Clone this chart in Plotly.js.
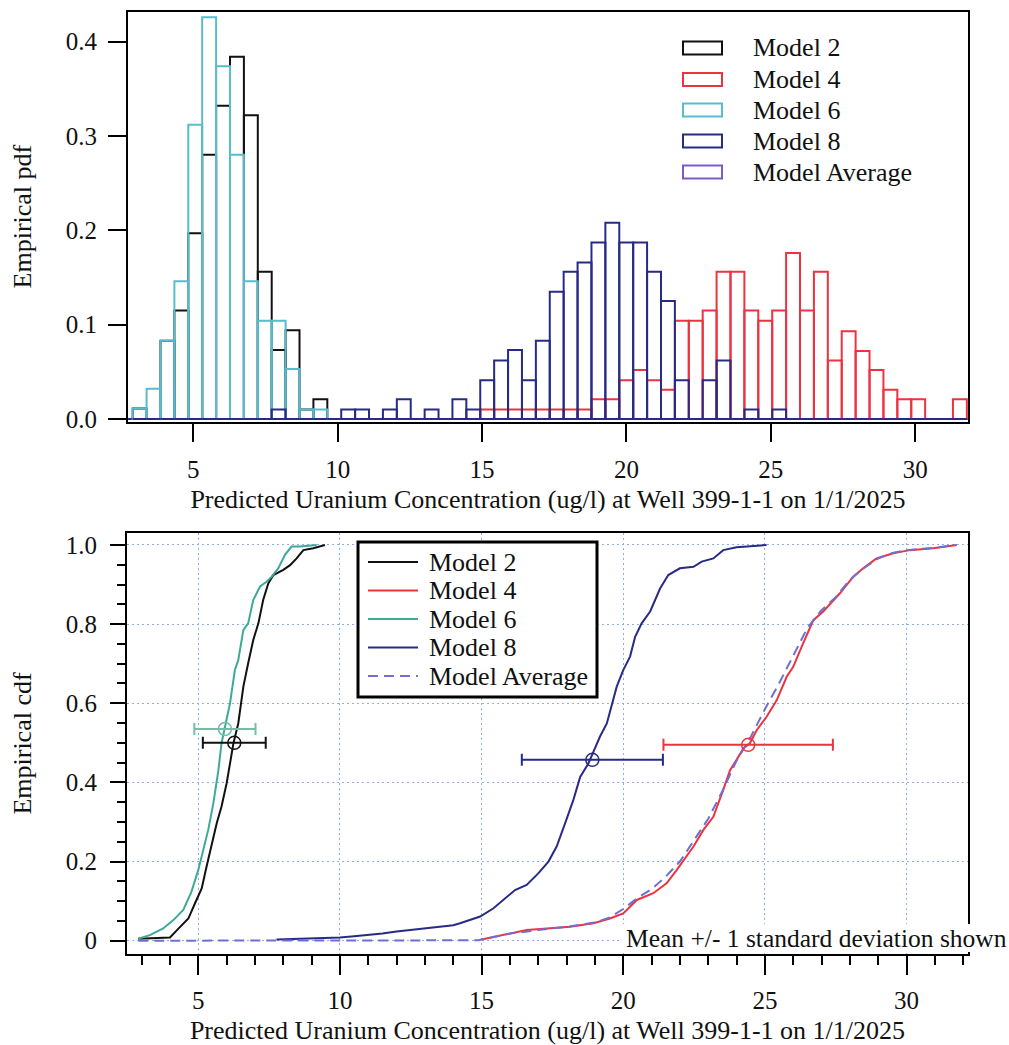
<!DOCTYPE html>
<html>
<head>
<meta charset="utf-8">
<script src="https://cdn.plot.ly/plotly-3.0.1.min.js"></script>
<style>
  html, body { margin: 0; padding: 0; background: #ffffff; }
  #chart { width: 1009px; height: 1045px; }
</style>
</head>
<body>
<div id="chart"></div>
<script>
// ---------- Histogram (empirical pdf): 60 equal bins ----------
const binStart = 2.90;     // left edge of first bin (ug/l)
const binWidth = 0.4815;   // bin width (ug/l)

const pdfModel2 = [0.011, 0, 0.083, 0.115, 0.197, 0.280, 0.332, 0.384, 0.322, 0.156,
  0.073, 0.094, 0.010, 0.021, 0, 0, 0, 0, 0, 0,
  0, 0, 0, 0, 0, 0, 0, 0, 0, 0,
  0, 0, 0, 0, 0, 0, 0, 0, 0, 0,
  0, 0, 0, 0, 0, 0, 0, 0, 0, 0,
  0, 0, 0, 0, 0, 0, 0, 0, 0, 0];

const pdfModel6 = [0.011, 0.032, 0.083, 0.146, 0.312, 0.426, 0.374, 0.280, 0.146, 0.104,
  0.104, 0.053, 0.010, 0.010, 0, 0, 0, 0, 0, 0,
  0, 0, 0, 0, 0, 0, 0, 0, 0, 0,
  0, 0, 0, 0, 0, 0, 0, 0, 0, 0,
  0, 0, 0, 0, 0, 0, 0, 0, 0, 0,
  0, 0, 0, 0, 0, 0, 0, 0, 0, 0];

const pdfModel4 = [0, 0, 0, 0, 0, 0, 0, 0, 0, 0,
  0, 0, 0, 0, 0, 0, 0, 0, 0, 0,
  0, 0, 0, 0, 0, 0.010, 0.010, 0.010, 0.010, 0.010,
  0.010, 0.010, 0.010, 0.021, 0.021, 0.041, 0.052, 0.041, 0.031, 0.104,
  0.104, 0.115, 0.156, 0.156, 0.115, 0.104, 0.115, 0.176, 0.115, 0.156,
  0.062, 0.093, 0.072, 0.052, 0.031, 0.021, 0.021, 0, 0, 0.021];

const pdfModel8 = [0, 0, 0, 0, 0, 0, 0, 0, 0, 0,
  0.010, 0, 0, 0, 0, 0.010, 0.010, 0, 0.010, 0.021,
  0, 0.010, 0, 0.021, 0.010, 0.041, 0.062, 0.073, 0.041, 0.083,
  0.135, 0.156, 0.166, 0.187, 0.208, 0.187, 0.187, 0.156, 0.125, 0.041,
  0, 0.041, 0.062, 0, 0.010, 0, 0.010, 0, 0, 0,
  0, 0, 0, 0, 0, 0, 0, 0, 0, 0];

// ---------- Empirical cdf curves ----------
const cdf2X = [2.88, 3.5, 4.0, 4.29, 4.65, 4.88, 5.12, 5.29, 5.47, 5.65, 5.82, 6.0, 6.12, 6.24,
  6.41, 6.59, 6.76, 6.94, 7.12, 7.29, 7.47, 7.65, 8.0, 8.24, 8.47, 8.71, 9.06, 9.47];
const cdf2Y = [0.005, 0.006, 0.008, 0.030, 0.056, 0.094, 0.132, 0.187, 0.242, 0.297, 0.339, 0.398, 0.448, 0.499,
  0.549, 0.642, 0.701, 0.760, 0.802, 0.861, 0.903, 0.924, 0.937, 0.949, 0.966, 0.987, 0.992, 1.0];

const cdf6X = [2.88, 3.29, 3.76, 4.12, 4.47, 4.76, 5.0, 5.18, 5.35, 5.53, 5.71, 5.82, 5.94, 6.12,
  6.29, 6.41, 6.59, 6.76, 6.94, 7.18, 7.41, 7.59, 7.82, 8.06, 8.29, 8.59, 9.18];
const cdf6Y = [0.005, 0.014, 0.031, 0.052, 0.078, 0.124, 0.179, 0.229, 0.280, 0.347, 0.431, 0.499, 0.541, 0.600,
  0.684, 0.709, 0.785, 0.802, 0.861, 0.895, 0.907, 0.920, 0.941, 0.975, 0.996, 0.996, 1.0];

const cdf8X = [7.76, 8.5, 9.5, 10.0, 10.5, 11.0, 11.5, 12.0, 12.5, 13.0, 13.5, 14.0, 14.24, 14.95,
  15.42, 15.77, 16.18, 16.59, 17.0, 17.36, 17.65, 17.95, 18.24, 18.48, 18.77, 18.95, 19.18, 19.42,
  19.59, 19.77, 20.0, 20.24, 20.42, 20.65, 20.95, 21.3, 21.59, 22.0, 22.48, 22.77, 23.18, 23.53, 24.0, 25.06];
const cdf8Y = [0.003, 0.005, 0.006, 0.008, 0.011, 0.014, 0.018, 0.023, 0.027, 0.031, 0.035, 0.039, 0.044, 0.061,
  0.082, 0.103, 0.128, 0.141, 0.170, 0.200, 0.238, 0.297, 0.356, 0.414, 0.448, 0.478, 0.516, 0.549,
  0.596, 0.642, 0.684, 0.718, 0.768, 0.802, 0.832, 0.890, 0.924, 0.941, 0.945, 0.958, 0.966, 0.987, 0.994, 1.0];

const cdf4X = [15.0, 15.77, 16.59, 17.3, 18.12, 18.95, 19.53, 20.0, 20.48, 21.06, 21.53, 21.89, 22.48, 22.83,
  23.18, 23.53, 23.77, 24.0, 24.24, 24.47, 24.71, 25.06, 25.42, 25.77, 26.0, 26.3, 26.71, 27.06,
  27.65, 28.12, 28.47, 28.94, 29.53, 30.12, 30.94, 31.77];
const cdf4Y = [0.003, 0.014, 0.027, 0.031, 0.035, 0.044, 0.056, 0.069, 0.103, 0.120, 0.145, 0.179, 0.238, 0.280,
  0.313, 0.381, 0.431, 0.457, 0.486, 0.499, 0.532, 0.566, 0.608, 0.667, 0.692, 0.743, 0.810, 0.832,
  0.878, 0.920, 0.941, 0.966, 0.979, 0.987, 0.992, 1.0];

const cdfAvgX = [2.88, 10.0, 14.9, 15.0, 16.0, 17.0, 18.0, 19.0, 19.5, 20.0, 20.5, 21.0, 21.5, 22.0,
  22.5, 23.0, 23.5, 24.0, 24.5, 25.0, 25.5, 26.0, 26.5, 27.0, 27.5, 28.0, 28.5, 29.0, 29.5, 30.0, 31.0, 31.77];
const cdfAvgY = [0.0, 0.0, 0.001, 0.003, 0.018, 0.027, 0.035, 0.046, 0.058, 0.080, 0.108, 0.130, 0.162, 0.200,
  0.255, 0.308, 0.378, 0.455, 0.515, 0.585, 0.650, 0.720, 0.790, 0.835, 0.868, 0.912, 0.942, 0.966, 0.980, 0.987, 0.993, 1.0];

// Mean +/- 1 standard deviation, placed on each cdf
const statModels = ["Model 6", "Model 2", "Model 8", "Model 4"];
const statMean = [5.94, 6.27, 18.91, 24.41];
const statSd = [1.08, 1.11, 2.49, 2.99];
const statCdf = [0.535, 0.500, 0.457, 0.495];

const legendNames = ["Model 2", "Model 4", "Model 6", "Model 8", "Model Average"];
const xTitle = "Predicted Uranium Concentration (ug/l) at Well 399-1-1 on 1/1/2025";

// ---------- styling ----------
const FONT = "Liberation Serif, Times New Roman, serif";
const C = {
  m2: "#111111",
  m4: "#ec3340",
  m6hist: "#58bccf",
  m6: "#3ea99a",
  m6stat: "#74bfa4",
  m8: "#272b86",
  avg: "#6f6fd2",
  avgHist: "#7a5cc6",
  grid: "#8db0ea"
};
const W = 1009, H = 1045;
const px = v => v / W;
const py = v => 1 - v / H;

function histTrace(vals, color) {
  return {
    type: "bar", xaxis: "x", yaxis: "y",
    x0: binStart + binWidth / 2, dx: binWidth, y: vals, width: binWidth,
    marker: { color: "rgba(0,0,0,0)", line: { color: color, width: 2 } },
    showlegend: false, hoverinfo: "skip"
  };
}
function cdfTrace(xs, ys, color, dash) {
  return {
    type: "scatter", mode: "lines", xaxis: "x2", yaxis: "y2",
    x: xs, y: ys,
    line: { color: color, width: 2, dash: dash || "solid" },
    showlegend: false, hoverinfo: "skip"
  };
}
const statColors = [C.m6stat, C.m2, C.m8, C.m4];
const statTraces = statModels.map((name, i) => ({
  type: "scatter", mode: "markers", xaxis: "x2", yaxis: "y2",
  name: name,
  x: [statMean[i]], y: [statCdf[i]],
  error_x: { type: "data", array: [statSd[i]], visible: true, color: statColors[i], thickness: 2, width: 6 },
  marker: { symbol: "circle-open", size: 13, color: statColors[i], line: { color: statColors[i], width: 1.5 } },
  showlegend: false, hoverinfo: "skip"
}));

const data = [
  histTrace(pdfModel2, C.m2),
  histTrace(pdfModel6, C.m6hist),
  histTrace(pdfModel4, C.m4),
  histTrace(pdfModel8, C.m8),
  cdfTrace(cdf2X, cdf2Y, C.m2),
  cdfTrace(cdf6X, cdf6Y, C.m6),
  cdfTrace(cdf8X, cdf8Y, C.m8),
  cdfTrace(cdf4X, cdf4Y, C.m4),
  cdfTrace(cdfAvgX, cdfAvgY, C.avg, "10px,6px")
].concat(statTraces);

// ---------- legends and note (drawn as shapes + text) ----------
const shapes = [];
const annotations = [];
const legendFont = { family: FONT, size: 26, color: "#111" };

// top legend: outlined swatches, no frame
const topLegendColors = [C.m2, C.m4, C.m6hist, C.m8, C.avgHist];
const topRows = [48, 79.5, 110, 141, 172];
legendNames.forEach((name, i) => {
  const cy = topRows[i];
  shapes.push({ type: "rect", xref: "paper", yref: "paper", layer: "above",
    x0: px(683), x1: px(722), y0: py(cy + 6.5), y1: py(cy - 6.5),
    line: { color: topLegendColors[i], width: 2 }, fillcolor: "rgba(0,0,0,0)" });
  annotations.push({ xref: "paper", yref: "paper", x: px(751), y: py(cy),
    xanchor: "left", yanchor: "middle", showarrow: false, text: name, font: legendFont });
});

// bottom legend: framed box with line samples
shapes.push({ type: "rect", xref: "paper", yref: "paper", layer: "above",
  x0: px(358), x1: px(597), y0: py(697), y1: py(542),
  line: { color: "#000", width: 3 }, fillcolor: "#ffffff" });
const botLegendColors = [C.m2, C.m4, C.m6, C.m8, C.avg];
const botRows = [562, 590.5, 619, 647.5, 676];
legendNames.forEach((name, i) => {
  const cy = botRows[i];
  shapes.push({ type: "line", xref: "paper", yref: "paper", layer: "above",
    x0: px(368), x1: px(418), y0: py(cy), y1: py(cy),
    line: { color: botLegendColors[i], width: 2, dash: i === 4 ? "10px,6px" : "solid" } });
  annotations.push({ xref: "paper", yref: "paper", x: px(427), y: py(cy),
    xanchor: "left", yanchor: "middle", showarrow: false, text: name, font: legendFont });
});

// note at the lower right, on a white backing
shapes.push({ type: "rect", xref: "paper", yref: "paper", layer: "above",
  x0: px(622), x1: px(1009), y0: py(952), y1: py(924),
  line: { width: 0 }, fillcolor: "#ffffff" });
annotations.push({ xref: "paper", yref: "paper", x: px(624), y: py(938),
  xanchor: "left", yanchor: "middle", showarrow: false,
  text: "Mean +/- 1 standard deviation shown",
  font: { family: FONT, size: 25.5, color: "#111" } });

const tickFont = { family: FONT, size: 25, color: "#111" };
const titleFont = { family: FONT, size: 26, color: "#111" };

const layout = {
  width: W, height: H,
  margin: { l: 0, r: 0, t: 0, b: 0, pad: 0 },
  paper_bgcolor: "#ffffff", plot_bgcolor: "#ffffff",
  barmode: "overlay", bargap: 0,
  showlegend: false,
  font: { family: FONT, color: "#111" },
  xaxis: {
    domain: [px(128), px(968)], range: [2.738, 31.83], anchor: "y",
    showline: true, linecolor: "#000", linewidth: 2, mirror: true,
    ticks: "outside", ticklen: 18, tickwidth: 2, tickcolor: "#000",
    tick0: 0, dtick: 5, tickfont: tickFont, ticklabelstandoff: 6,
    showgrid: false, zeroline: false,
    title: { text: xTitle, font: titleFont, standoff: 8 }
  },
  yaxis: {
    domain: [py(421.5), py(11.7)], range: [-0.0027, 0.4318], anchor: "x",
    showline: true, linecolor: "#000", linewidth: 2, mirror: true,
    ticks: "outside", ticklen: 18, tickwidth: 2, tickcolor: "#000",
    tick0: 0, dtick: 0.1, tickformat: ".1f", tickfont: tickFont, ticklabelstandoff: 6,
    showgrid: false,
    zeroline: true, zerolinecolor: C.m8, zerolinewidth: 2,
    title: { text: "Empirical pdf", font: titleFont, standoff: 27 }
  },
  xaxis2: {
    domain: [px(127), px(968)], range: [2.483, 32.17], anchor: "y2",
    showline: true, linecolor: "#000", linewidth: 2, mirror: true,
    ticks: "outside", ticklen: 19, tickwidth: 2, tickcolor: "#000",
    tick0: 0, dtick: 5, tickfont: tickFont, ticklabelstandoff: 4,
    minor: { tick0: 0, dtick: 1, ticks: "outside", ticklen: 9, tickwidth: 2, tickcolor: "#000", showgrid: false },
    showgrid: true, gridcolor: C.grid, gridwidth: 1, griddash: "2px,3px",
    zeroline: false,
    title: { text: xTitle, font: titleFont, standoff: 8 }
  },
  yaxis2: {
    domain: [py(954), py(533)], range: [-0.0336, 1.0303], anchor: "x2",
    showline: true, linecolor: "#000", linewidth: 2, mirror: true,
    ticks: "outside", ticklen: 15, tickwidth: 2, tickcolor: "#000",
    tickmode: "array", tickvals: [0, 0.2, 0.4, 0.6, 0.8, 1.0],
    ticktext: ["0", "0.2", "0.4", "0.6", "0.8", "1.0"],
    tickfont: tickFont, ticklabelstandoff: 8,
    minor: { tickmode: "linear", tick0: 0, dtick: 0.05, ticks: "outside", ticklen: 8, tickwidth: 2, tickcolor: "#000", showgrid: false },
    showgrid: true, gridcolor: C.grid, gridwidth: 1, griddash: "2px,3px",
    zeroline: false,
    title: { text: "Empirical cdf", font: titleFont, standoff: 27 }
  },
  shapes: shapes,
  annotations: annotations
};

Plotly.newPlot("chart", data, layout, { displayModeBar: false, staticPlot: true });
</script>
</body>
</html>
